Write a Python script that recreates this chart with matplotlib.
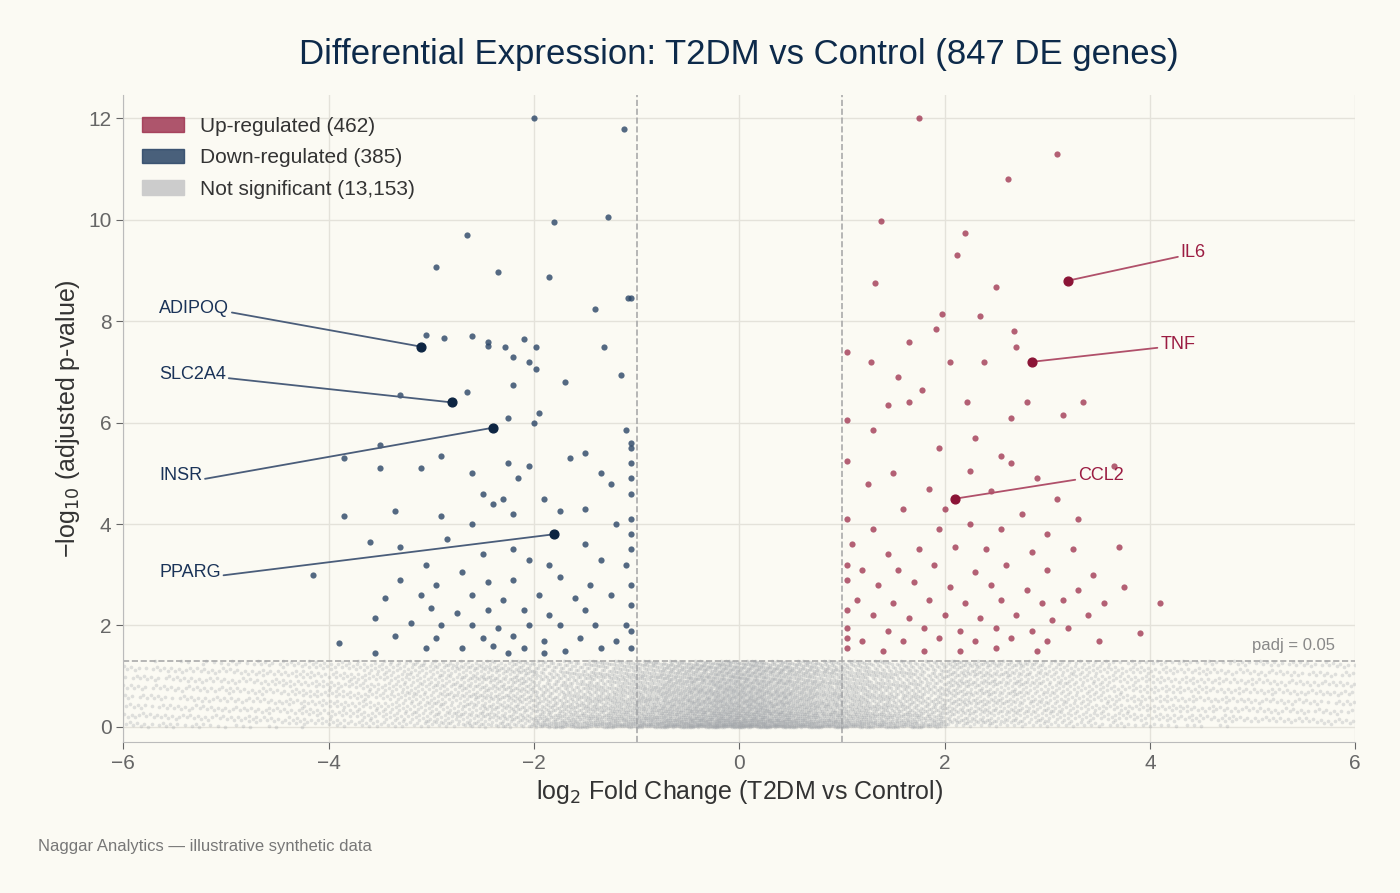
import matplotlib.pyplot as plt
from matplotlib.patches import Patch
import numpy as np

plt.rcParams['font.family'] = ['Liberation Sans', 'DejaVu Sans']

# significant genes (a representative subset)
down_x = [-2.0,-1.12,-1.28,-1.8,-2.65,-2.95,-2.35,-1.85,-1.05,-1.08,-1.4,-3.05,-2.6,-2.1,-2.45,-2.45,-2.28,-1.98,-2.88,-1.32,
          -2.2,-2.05,-1.98,-1.15,-2.2,-1.7,-2.65,-3.3,-1.95,-2.25,-2.0,-1.1,-1.5,-1.05,-1.05,-3.5,-2.9,-1.65,-2.25,-3.85,
          -2.05,-3.5,-1.35,-2.6,-3.1,-2.5,-2.15,-1.05,-1.25,-2.3,-1.9,-2.4,-3.35,-3.85,-2.9,-1.5,-1.75,-2.2,-2.6,-1.2,
          -1.05,-3.6,-3.3,-2.85,-2.5,-2.2,-1.5,-1.35,-2.05,-1.85,-3.05,-2.7,-1.1,-4.15,-3.3,-2.95,-2.45,-2.2,-1.75,-1.45,
          -3.45,-3.1,-2.6,-2.3,-1.95,-1.6,-1.25,-3.0,-2.75,-2.45,-2.1,-1.85,-1.5,-1.05,-3.55,-3.2,-2.9,-2.6,-2.35,-2.05,
          -1.75,-1.4,-1.1,-3.35,-2.95,-2.5,-2.2,-1.9,-1.55,-1.2,-3.9,-3.05,-2.7,-2.4,-2.1,-1.7,-1.35,-1.05,-3.55,-2.25,
          -1.9,-1.05,-1.05,-1.05,-1.05,-1.05,-1.05]
down_y = [12.0,11.8,10.05,9.95,9.7,9.08,8.98,8.87,8.45,8.45,8.25,7.72,7.7,7.65,7.6,7.52,7.5,7.5,7.68,7.5,
          7.3,7.2,7.05,6.95,6.75,6.8,6.6,6.55,6.2,6.1,6.0,5.85,5.4,5.6,5.5,5.55,5.35,5.3,5.2,5.3,
          5.15,5.1,5.0,5.0,5.1,4.6,4.9,4.9,4.8,4.5,4.5,4.4,4.25,4.15,4.15,4.3,4.25,4.2,4.0,4.0,
          3.8,3.65,3.55,3.7,3.4,3.5,3.6,3.3,3.3,3.2,3.2,3.05,3.2,3.0,2.9,2.8,2.85,2.9,2.95,2.8,
          2.55,2.6,2.6,2.5,2.6,2.55,2.6,2.35,2.25,2.3,2.3,2.2,2.3,2.4,2.15,2.05,2.0,2.0,1.95,2.0,
          2.0,2.0,2.0,1.8,1.75,1.75,1.8,1.7,1.75,1.7,1.65,1.55,1.55,1.6,1.55,1.5,1.55,1.55,1.45,1.45,
          1.45,3.5,4.1,4.6,5.2,2.8,1.9]
up_x = [1.75,3.1,2.62,1.38,2.2,2.12,1.32,2.5,1.98,2.35,1.92,2.68,1.05,1.28,1.65,2.7,2.05,2.38,1.55,1.78,
        1.05,1.45,1.65,3.15,3.35,2.22,2.65,2.8,1.3,2.3,1.95,2.55,3.65,1.05,1.5,2.25,2.65,2.9,1.25,1.85,
        2.45,3.1,1.05,1.6,2.0,2.75,3.3,1.3,1.95,2.25,2.55,3.0,3.7,1.1,1.45,1.75,2.1,2.4,2.85,3.25,
        1.2,1.55,1.9,2.3,2.6,3.0,3.45,1.05,1.35,1.7,2.05,2.45,2.8,3.3,3.75,1.15,1.5,1.85,2.2,2.55,
        2.95,3.15,3.55,4.1,1.3,1.65,2.0,2.35,2.7,3.05,3.4,1.05,1.45,1.8,2.15,2.5,2.85,3.2,3.9,1.2,
        1.6,1.95,2.3,2.65,3.0,3.5,1.05,1.4,1.8,2.15,2.5,2.9,1.05,1.05,1.05]
up_y = [12.0,11.3,10.8,9.98,9.75,9.3,8.75,8.68,8.15,8.1,7.85,7.8,7.4,7.2,7.6,7.5,7.2,7.2,6.9,6.65,
        6.05,6.35,6.4,6.15,6.4,6.4,6.1,6.4,5.85,5.7,5.5,5.35,5.15,5.25,5.0,5.05,5.2,4.9,4.8,4.7,
        4.65,4.5,4.1,4.3,4.3,4.2,4.1,3.9,3.9,4.0,3.9,3.8,3.55,3.6,3.4,3.5,3.55,3.5,3.45,3.5,
        3.1,3.1,3.2,3.05,3.2,3.1,3.0,2.9,2.8,2.85,2.75,2.8,2.7,2.7,2.75,2.5,2.45,2.5,2.45,2.5,
        2.45,2.5,2.45,2.45,2.2,2.15,2.2,2.15,2.2,2.1,2.2,1.95,1.9,1.95,1.9,1.95,1.9,1.95,1.85,1.7,
        1.7,1.75,1.7,1.75,1.7,1.7,1.55,1.5,1.5,1.5,1.55,1.5,1.75,2.3,3.2]

# not-significant cloud: approximate point counts per 0.25-wide log2FC bin, -6..0 (mirrored for 0..6)
ns_half_counts = [45,45,48,50,52,55,60,65,70,78,85,95,105,120,135,150,170,195,225,260,300,350,400,450]
ns_bin_counts = ns_half_counts + ns_half_counts[::-1]

# labelled genes: name, x, y, text x, text y
genes_down = [("ADIPOQ",-3.1,7.5,-5.65,8.25), ("SLC2A4",-2.8,6.4,-5.65,6.95),
              ("INSR",-2.4,5.9,-5.65,4.95), ("PPARG",-1.8,3.8,-5.65,3.05)]
genes_up = [("IL6",3.2,8.8,4.3,9.35), ("TNF",2.85,7.2,4.1,7.55), ("CCL2",2.1,4.5,3.3,4.95)]

bg = '#fbfaf3'
up_c, down_c, ns_c = '#9b2c4a', '#2a4566', '#9ea2a7'
fig = plt.figure(figsize=(14, 8.93), dpi=100, facecolor=bg)
ax = fig.add_axes([0.088, 0.169, 0.88, 0.725], facecolor=bg)

# gray cloud spread over each bin with an R2 low-discrepancy sequence
a1, a2 = 0.7548776662, 0.5698402910
ns_x, ns_y = [], []
for i, n in enumerate(ns_bin_counts):
    k = np.arange(1, n + 1) + 7 * i
    ns_x.append(-6 + 0.25 * i + 0.25 * ((0.5 + a1 * k) % 1))
    ns_y.append(1.3 * ((0.5 + a2 * k) % 1) ** (1.4 if 16 <= i <= 31 else 1.0))
ax.scatter(np.concatenate(ns_x), np.concatenate(ns_y), s=7, c=ns_c, alpha=0.3, lw=0, zorder=2)

ax.scatter(down_x, down_y, s=20, c=down_c, alpha=0.8, lw=0, zorder=3)
ax.scatter(up_x, up_y, s=20, c=up_c, alpha=0.75, lw=0, zorder=3)

for xv in (-1, 1):
    ax.axvline(xv, color='#aaaaaa', ls='--', lw=1.2, zorder=1)
ax.axhline(1.3, color='#aaaaaa', ls='--', lw=1.2, zorder=1)
ax.text(5.8, 1.45, 'padj = 0.05', ha='right', va='bottom', fontsize=12, color='#888888')

for name, x, y, tx, ty in genes_down:
    ax.scatter([x], [y], s=40, c='#0d2542', zorder=5)
    ax.annotate(name, (x, y), (tx, ty), fontsize=13, color='#1a3358', va='center',
                arrowprops=dict(arrowstyle='-', color='#4a5d7a', lw=1.3, shrinkA=0, shrinkB=0,
                                relpos=(1, 0.3)))
for name, x, y, tx, ty in genes_up:
    ax.scatter([x], [y], s=40, c='#8b1436', zorder=5)
    ax.annotate(name, (x, y), (tx, ty), fontsize=13, color='#9b1c42', va='center',
                arrowprops=dict(arrowstyle='-', color='#b0506a', lw=1.3, shrinkA=0, shrinkB=0,
                                relpos=(0, 0.3)))

ax.set_xlim(-6, 6)
ax.set_ylim(-0.3, 12.47)
ax.set_xticks([-6, -4, -2, 0, 2, 4, 6])
ax.set_xticklabels(['\u22126', '\u22124', '\u22122', '0', '2', '4', '6'])
ax.set_yticks([0, 2, 4, 6, 8, 10, 12])
ax.grid(True, color='#e4e2da', lw=1)
ax.set_axisbelow(True)
for s in ('top', 'right'):
    ax.spines[s].set_visible(False)
for s in ('left', 'bottom'):
    ax.spines[s].set_color('#bbbbbb')
ax.tick_params(labelsize=15, colors='#666666', length=5)
ax.set_xlabel('log$_2$ Fold Change (T2DM vs Control)', fontsize=18, color='#333333')
ax.set_ylabel('\u2212log$_{10}$ (adjusted p-value)', fontsize=18, color='#333333')
ax.set_title('Differential Expression: T2DM vs Control (847 DE genes)', fontsize=25,
             color='#0d2a4a', pad=22)

handles = [Patch(color=up_c, alpha=0.8, label='Up-regulated (462)'),
           Patch(color=down_c, alpha=0.85, label='Down-regulated (385)'),
           Patch(color='#cccccc', label='Not significant (13,153)')]
ax.legend(handles=handles, loc='upper left', frameon=False, fontsize=15,
          labelcolor='#333333', handlelength=2.0, labelspacing=0.6, bbox_to_anchor=(0.0, 0.995))

fig.text(0.027, 0.047, 'Naggar Analytics \u2014 illustrative synthetic data', fontsize=12, color='#777777')
fig.savefig('out.png', dpi=100, facecolor=bg)
